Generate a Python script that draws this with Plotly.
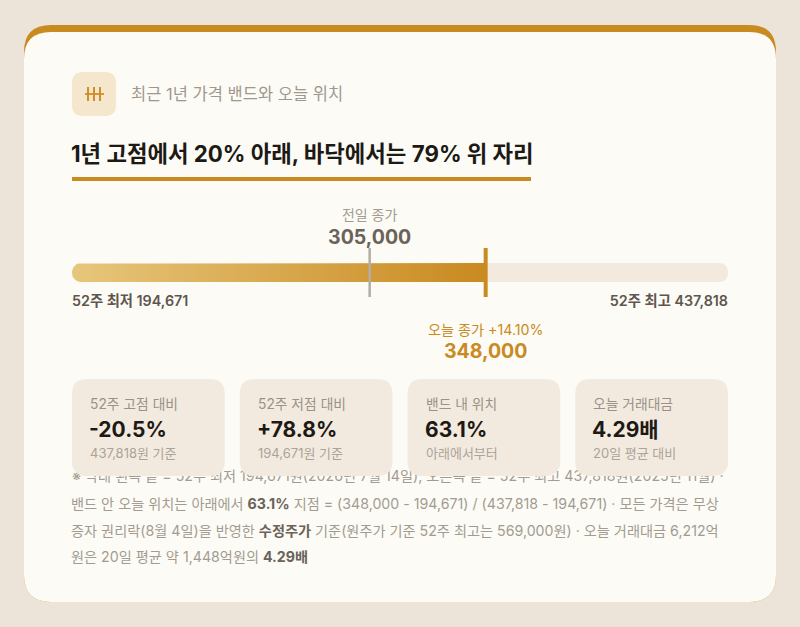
import numpy as np
import plotly.graph_objects as go

W, H = 800, 627

# price band data
low_52w = 194671
high_52w = 437818
prev_close = 305000
today_close = 348000
today_change = 14.10

header = '최근 1년 가격 밴드와 오늘 위치'
title = '1년 고점에서 20% 아래, 바닥에서는 79% 위 자리'

card_labels = ['52주 고점 대비', '52주 저점 대비', '밴드 내 위치', '오늘 거래대금']
card_values = ['-20.5%', '+78.8%', '63.1%', '4.29배']
card_notes = ['437,818원 기준', '194,671원 기준', '아래에서부터', '20일 평균 대비']

note_lines = [
    '※ 막대 왼쪽 끝 = 52주 최저 194,671원(2026년 7월 14일), 오른쪽 끝 = 52주 최고 437,818원(2025년 11월) ·',
    '밴드 안 오늘 위치는 아래에서 <b>63.1%</b> 지점 = (348,000 - 194,671) / (437,818 - 194,671) · 모든 가격은 무상',
    '증자 권리락(8월 4일)을 반영한 <b>수정주가</b> 기준(원주가 기준 52주 최고는 569,000원) · 오늘 거래대금 6,212억',
    '원은 20일 평균 약 1,448억원의 <b>4.29배</b>',
]

PAGE = '#ECE4D8'
CARD = '#FCFBF6'
GOLD = '#C98A20'
GOLD_LIGHT = '#E7C67B'
TRACK = '#F2EADF'
TILE = '#F3EADF'
ICON_BG = '#F4E7CD'
DARK = '#1D1915'
MID = '#6B6259'
LIGHT = '#A39B91'
FONT = 'Inter, Noto Sans CJK KR, sans-serif'

BAR_L, BAR_R = 72, 728
BAR_T, BAR_B = 263, 282


def px(x):
    return x / W


def py(y):
    return 1 - y / H


def rrect(x0, y0, x1, y1, r):
    # rounded rectangle path in paper coords, input in pixels
    rx, ry = r / W, r / H
    a, b, c, d = px(x0), py(y0), px(x1), py(y1)
    return (f'M{a + rx},{b} L{c - rx},{b} Q{c},{b} {c},{b - ry} '
            f'L{c},{d + ry} Q{c},{d} {c - rx},{d} L{a + rx},{d} '
            f'Q{a},{d} {a},{d + ry} L{a},{b - ry} Q{a},{b} {a + rx},{b} Z')


shapes = []
annos = []


def box(x0, y0, x1, y1, r, color, layer='below'):
    shapes.append(dict(type='path', xref='paper', yref='paper', path=rrect(x0, y0, x1, y1, r),
                       fillcolor=color, line_width=0, layer=layer))


def text(x, y, s, size, color, anchor='left', bold=False):
    annos.append(dict(x=px(x), y=py(y), xref='paper', yref='paper', text=f'<b>{s}</b>' if bold else s,
                      showarrow=False, xanchor=anchor, yanchor='middle', borderpad=0,
                      font=dict(family=FONT, size=size, color=color)))


# outer card with gold top edge
box(24, 25, 776, 602, 27, GOLD)
box(24, 32, 776, 602, 27, CARD)

# icon
box(72, 72, 116, 116, 11, ICON_BG)
shapes.append(dict(type='line', xref='paper', yref='paper', x0=px(85), x1=px(104), y0=py(94), y1=py(94),
                   line=dict(color='#D08E24', width=1.8)))
for vx in [88, 94, 100]:
    shapes.append(dict(type='line', xref='paper', yref='paper', x0=px(vx), x1=px(vx), y0=py(87), y1=py(101),
                       line=dict(color='#D08E24', width=2)))

text(130, 94, header, 16.5, '#A0988D')
text(70, 153, title, 22.3, DARK, bold=True)
shapes.append(dict(type='rect', xref='paper', yref='paper', x0=px(72), x1=px(531), y0=py(177), y1=py(181),
                   fillcolor=GOLD, line_width=0))

# track
box(BAR_L, BAR_T, BAR_R, BAR_B, (BAR_B - BAR_T) / 2, TRACK)

fig = go.Figure()

# gradient fill from low to today, rounded left end
ppx = (high_52w - low_52w) / (BAR_R - BAR_L)
r = (BAR_B - BAR_T) / 2
cy = (BAR_T + BAR_B) / 2
th = np.linspace(np.pi / 2, 3 * np.pi / 2, 25)
fx = np.concatenate([[today_close], low_52w + r * ppx + r * ppx * np.cos(th), [today_close]])
fy = np.concatenate([[BAR_T], cy - r * np.sin(th), [BAR_B]])
fig.add_trace(go.Scatter(x=fx, y=fy, mode='lines', fill='toself', line=dict(width=0),
                         fillgradient=dict(type='horizontal', colorscale=[[0, GOLD_LIGHT], [1, GOLD]]),
                         hoverinfo='skip', showlegend=False))

# markers
fig.add_trace(go.Scatter(x=[prev_close, prev_close], y=[248, 297], mode='lines',
                         line=dict(color='#B5ADA3', width=2.5), hoverinfo='skip', showlegend=False))
fig.add_trace(go.Scatter(x=[today_close, today_close], y=[248, 297], mode='lines',
                         line=dict(color=GOLD, width=4), hoverinfo='skip', showlegend=False))

# labels around the bar, placed on the price axis
fig.add_trace(go.Scatter(x=[prev_close, prev_close], y=[216, 239], mode='text',
                         text=['전일 종가', f'<b>{prev_close:,}</b>'], textposition='middle center',
                         textfont=dict(family=FONT, size=[14, 19.5], color=[LIGHT, MID]),
                         cliponaxis=False, hoverinfo='skip', showlegend=False))
fig.add_trace(go.Scatter(x=[today_close, today_close], y=[331, 353], mode='text',
                         text=[f'오늘 종가 +{today_change:.2f}%', f'<b>{today_close:,}</b>'],
                         textposition='middle center',
                         textfont=dict(family=FONT, size=[14.2, 19.5], color=GOLD),
                         cliponaxis=False, hoverinfo='skip', showlegend=False))
fig.add_trace(go.Scatter(x=[low_52w, high_52w], y=[302, 302], mode='text',
                         text=[f'52주 최저 {low_52w:,}', f'52주 최고 {high_52w:,}'],
                         textposition=['middle right', 'middle left'],
                         textfont=dict(family=FONT, size=14.3, color='#5E564D', weight=600),
                         cliponaxis=False, hoverinfo='skip', showlegend=False))

# first note line sits partly under the cards
fig.add_trace(go.Scatter(x=[low_52w], y=[477], mode='text', text=[note_lines[0]], textposition='middle right',
                         textfont=dict(family=FONT, size=14.2, color=LIGHT),
                         cliponaxis=False, hoverinfo='skip', showlegend=False))

# stat cards
gap = 15
cw = (BAR_R - BAR_L - 3 * gap) / 4
for i, (lab, val, note) in enumerate(zip(card_labels, card_values, card_notes)):
    x0 = BAR_L + i * (cw + gap)
    box(x0, 379, x0 + cw, 476, 15, TILE, layer='above')
    text(x0 + 17, 404, lab, 13.8, '#9A9187')
    text(x0 + 16, 430, val, 21, DARK, bold=True)
    text(x0 + 17, 453, note, 13, '#ABA397')

for k, line in enumerate(note_lines[1:]):
    s = line.replace('<b>', f'<span style="color:{MID}"><b>').replace('</b>', '</b></span>')
    text(70, 503.5 + k * 26.7, s, 14.2, LIGHT)

fig.update_layout(
    width=W, height=H, margin=dict(l=0, r=0, t=0, b=0),
    paper_bgcolor=PAGE, plot_bgcolor='rgba(0,0,0,0)',
    xaxis=dict(range=[low_52w, high_52w], domain=[BAR_L / W, BAR_R / W], visible=False, fixedrange=True),
    yaxis=dict(range=[H, 0], domain=[0, 1], visible=False, fixedrange=True),
    shapes=shapes, annotations=annos, showlegend=False,
)

fig.write_html('out.html', config={'displayModeBar': False},
               post_script="document.body.style.margin='0';document.body.style.overflow='hidden';")
